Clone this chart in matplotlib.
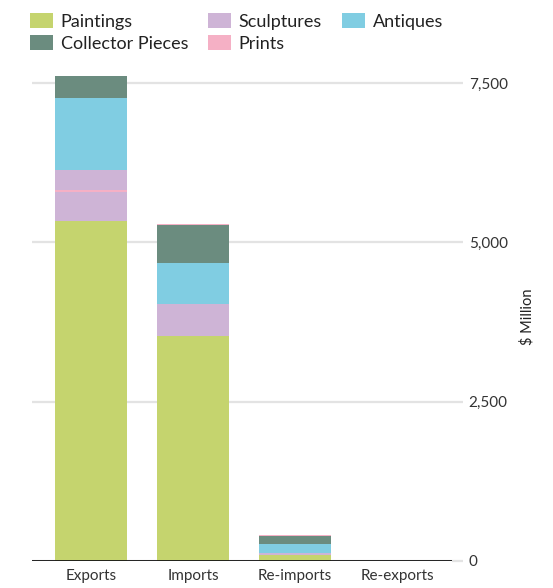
import matplotlib
matplotlib.use("Agg")
import matplotlib.pyplot as plt
from matplotlib.patches import Patch
from matplotlib.ticker import FuncFormatter

plt.rcParams['font.family'] = ['Lato', 'DejaVu Sans']

# Data ($ Million), stacked bottom to top
categories = ["Exports", "Imports", "Re-imports", "Re-exports"]
paintings = [5330, 3525, 95, 0]
sculptures = [465, 500, 35, 0]
prints_mid = [30, 0, 0, 0]
sculptures_upper = [315, 0, 0, 0]
antiques = [1125, 655, 130, 0]
collector = [350, 595, 125, 0]
prints_top = [0, 20, 25, 0]

colors = {
    "Paintings": "#c5d46e",
    "Sculptures": "#ceb4d6",
    "Antiques": "#80cde2",
    "Collector Pieces": "#6b8c7f",
    "Prints": "#f5b0c5",
}

stack = [
    ("Paintings", paintings),
    ("Sculptures", sculptures),
    ("Prints", prints_mid),
    ("Sculptures", sculptures_upper),
    ("Antiques", antiques),
    ("Collector Pieces", collector),
    ("Prints", prints_top),
]

fig = plt.figure(figsize=(5.53, 5.88), dpi=100)
ax = fig.add_axes([32 / 553, 1 - 561 / 588, (452 - 32) / 553, (561 - 73.4) / 588])

x = list(range(len(categories)))
bottom = [0] * len(categories)
for name, vals in stack:
    ax.bar(x, vals, bottom=bottom, width=0.706, color=colors[name], linewidth=0, zorder=2)
    bottom = [b + v for b, v in zip(bottom, vals)]

ax.set_xlim(-0.578, 3.539)
ax.set_ylim(0, 7650)
ax.set_xticks(x)
ax.set_xticklabels(categories)

ax.yaxis.tick_right()
ax.yaxis.set_label_position('right')
ax.set_yticks([0, 2500, 5000, 7500])
ax.yaxis.set_major_formatter(FuncFormatter(lambda v, p: f"{int(v):,}"))
ax.set_ylabel("$ Million", fontsize=10.5, color="#222222")
ax.yaxis.set_label_coords(1.162, 0.5)

ax.grid(axis='y', color="#e3e3e3", linewidth=1.6, zorder=0)
ax.set_axisbelow(True)
for s in ax.spines.values():
    s.set_visible(False)
ax.axhline(0, color="#111111", linewidth=2, zorder=3)

ax.tick_params(axis='x', length=0, labelsize=11, labelcolor="#333333", pad=6)
ax.tick_params(axis='y', length=8, width=1.6, color="#e3e3e3", labelsize=11,
               labelcolor="#333333", pad=4)
ax.yaxis.get_major_ticks()[0].tick2line.set_color("#111111")

order = ["Paintings", "Collector Pieces", "Sculptures", "Prints", "Antiques"]
handles = [Patch(facecolor=colors[n], edgecolor='none') for n in order]
fig.legend(handles, order, ncol=3, loc='upper left', bbox_to_anchor=(0.025, 1.005),
           frameon=False, fontsize=13, handlelength=1.25, handleheight=0.9,
           handletextpad=0.45, columnspacing=1.1, labelspacing=0.3,
           labelcolor="#222222")

fig.savefig("out.png", dpi=100)
